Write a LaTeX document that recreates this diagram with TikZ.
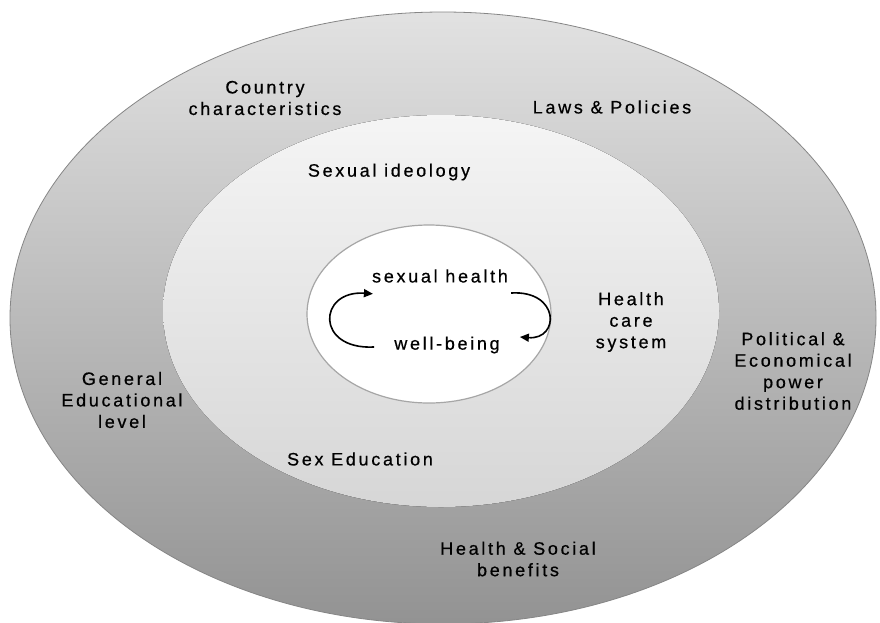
\documentclass[tikz,border=0pt]{standalone}
\usepackage{fontspec}
\setmainfont{Liberation Sans}[LetterSpace=15, FakeBold=0.6]
\usepackage{tikz}
\usetikzlibrary{arrows.meta}

\begin{document}
\begin{tikzpicture}[x=1pt, y=-1pt,
   lbl/.style={align=center, inner sep=0pt, font=\fontsize{18}{21.5}\selectfont},
   cyc/.style={-{Triangle[length=9pt, width=8pt]}, line width=1.6pt}
]
\useasboundingbox[fill=white] (0,0) rectangle (880,622);
% Rings
\draw[line width=0.8pt, draw=gray!95, top color=gray!23, bottom color=gray!85]
   (443,318) ellipse [x radius=433, y radius=306];
\fill[top color=gray!8, bottom color=gray!32]
   (441,311) ellipse [x radius=278, y radius=196];
\draw[line width=1.2pt, draw=gray!70, fill=white]
   (429,314) ellipse [x radius=122, y radius=89];

% Nodes
\node[lbl] (country) at (265,98) {Country\\characteristics};
\node[lbl] (laws) at (612,107) {Laws \& Policies};
\node[lbl] (ideology) at (389,172) {Sexual ideology};
\node[lbl] (sexhealth) at (440,276) {sexual health};
\node[lbl] (wellbeing) at (447,345) {well-being};
\node[lbl] (caresys) at (631,322) {Health\\care\\system};
\node[lbl] (power) at (793,371) {Political \&\\Economical\\power\\distribution};
\node[lbl] (general) at (122,400) {General\\Educational\\level};
\node[lbl] (sexedu) at (360,459) {Sex Education};
\node[lbl] (benefits) at (518,559) {Health \& Social\\benefits};

% Arrows
\draw[cyc] ([shift={(-20,2)}]wellbeing.west) .. controls (315,350) and (318,290) .. ([shift={(1,11)}]sexhealth.south west);
\draw[cyc] ([shift={(3,17)}]sexhealth.east) .. controls (560,290) and (560,340) .. ([shift={(20,-8)}]wellbeing.east);
\end{tikzpicture}
\end{document}
